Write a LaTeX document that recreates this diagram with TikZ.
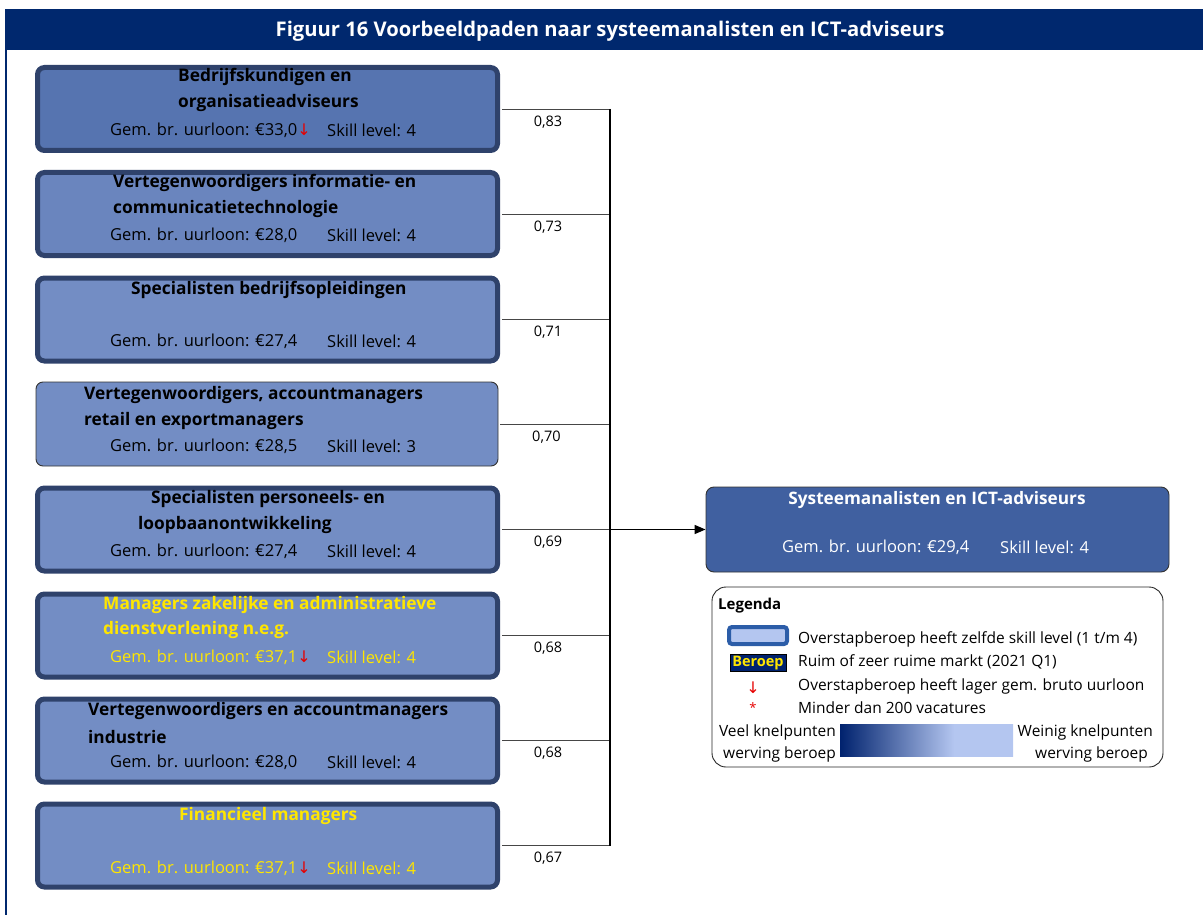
\documentclass[tikz,border=0pt]{standalone}
\usepackage{fontspec}
\setmainfont{Open Sans}
\newfontfamily\arrowfont{DejaVu Sans}
\usetikzlibrary{arrows.meta}

\definecolor{hdrblue}{RGB}{0,40,110}
\definecolor{boxedge}{RGB}{47,66,107}
\definecolor{fillA}{RGB}{86,116,176}
\definecolor{fillB}{RGB}{106,133,190}
\definecolor{fillC}{RGB}{115,141,196}
\definecolor{goalfill}{RGB}{64,96,160}
\definecolor{markyellow}{RGB}{255,230,0}
\definecolor{lowred}{RGB}{230,0,0}
\definecolor{legedge}{RGB}{44,93,168}
\definecolor{leglight}{RGB}{180,198,240}
\definecolor{legdark}{RGB}{0,34,110}
\definecolor{connline}{RGB}{70,70,70}

% dark-to-light scale for recruitment bottlenecks (visible range 25bp..75bp)
\pgfdeclarehorizontalshading{knelpunt}{100bp}{color(0bp)=(legdark); color(25bp)=(legdark); color(58bp)=(leglight); color(100bp)=(leglight)}

% red arrow for a lower average hourly wage
\newcommand{\lowerwage}{{\arrowfont\color{lowred}\fontsize{16}{16}\selectfont ↓}}

\tikzset{
  pathbox/.style={draw=boxedge, line width=5pt, rounded corners=7pt,
    minimum width=460pt, minimum height=83pt, inner sep=0pt},
  thinbox/.style={draw=black!80, line width=0.9pt, rounded corners=7pt,
    minimum width=462pt, minimum height=84pt, inner sep=0pt},
  ttl/.style={anchor=west, inner sep=0pt, font=\fontsize{17.3}{18}\selectfont\bfseries},
  info/.style={anchor=west, inner sep=0pt, font=\fontsize{16.5}{18}\selectfont},
  score/.style={inner sep=0pt, font=\fontsize{14.5}{16}\selectfont},
  conn/.style={draw=connline, line width=0.9pt},
  legtxt/.style={anchor=west, inner sep=0pt, font=\fontsize{15.5}{16}\selectfont},
}

\begin{document}
\begin{tikzpicture}[x=1pt,y=-1pt]
\useasboundingbox (0,0) rectangle (1203,915);

% header band and left frame line
\fill[hdrblue] (5,9) rectangle (1203,50);
\node[font=\fontsize{20.2}{22}\selectfont\bfseries, text=white, inner sep=0pt] (title) at (610,31)
  {Figuur 16 Voorbeeldpaden naar systeemanalisten en ICT-adviseurs};
\draw[hdrblue, line width=2pt] (6,50) -- (6,915);

% source occupations
\node[pathbox, fill=fillA] (b1) at (267.5,109) {};
\node[pathbox, fill=fillB] (b2) at (267.5,214) {};
\node[pathbox, fill=fillC] (b3) at (267.5,319.5) {};
\node[thinbox, fill=fillC] (b4) at (267,424) {};
\node[pathbox, fill=fillC] (b5) at (267.5,529.5) {};
\node[pathbox, fill=fillC] (b6) at (267.5,635.5) {};
\node[pathbox, fill=fillC] (b7) at (267.5,740.5) {};
\node[pathbox, fill=fillC] (b8) at (267.5,845.5) {};

\node[ttl] (b1a) at (178,77) {Bedrijfskundigen en};
\node[ttl] (b1b) at (178,103) {organisatieadviseurs};
\node[info] (b1c) at (110,130) {Gem. br. uurloon: €33,0\lowerwage};
\node[info] (b1d) at (327,130) {Skill level: 4};

\node[ttl] (b2a) at (113,183) {Vertegenwoordigers informatie- en};
\node[ttl] (b2b) at (113,209) {communicatietechnologie};
\node[info] (b2c) at (110,235) {Gem. br. uurloon: €28,0};
\node[info] (b2d) at (327,235) {Skill level: 4};

\node[ttl] (b3a) at (131,290) {Specialisten bedrijfsopleidingen};
\node[info] (b3c) at (110,341) {Gem. br. uurloon: €27,4};
\node[info] (b3d) at (327,341) {Skill level: 4};

\node[ttl] (b4a) at (84,395) {Vertegenwoordigers, accountmanagers};
\node[ttl] (b4b) at (84,421) {retail en exportmanagers};
\node[info] (b4c) at (110,446) {Gem. br. uurloon: €28,5};
\node[info] (b4d) at (327,446) {Skill level: 3};

\node[ttl] (b5a) at (151,499) {Specialisten personeels- en};
\node[ttl] (b5b) at (138,525) {loopbaanontwikkeling};
\node[info] (b5c) at (110,551) {Gem. br. uurloon: €27,4};
\node[info] (b5d) at (327,551) {Skill level: 4};

\node[ttl, text=markyellow] (b6a) at (103,605) {Managers zakelijke en administratieve};
\node[ttl, text=markyellow] (b6b) at (103,630) {dienstverlening n.e.g.};
\node[info, text=markyellow] (b6c) at (110,657) {Gem. br. uurloon: €37,1\lowerwage};
\node[info, text=markyellow] (b6d) at (327,657) {Skill level: 4};

\node[ttl] (b7a) at (88,711) {Vertegenwoordigers en accountmanagers};
\node[ttl] (b7b) at (88,737) {industrie};
\node[info] (b7c) at (110,762) {Gem. br. uurloon: €28,0};
\node[info] (b7d) at (327,762) {Skill level: 4};

\node[ttl, text=markyellow] (b8a) at (179,816) {Financieel managers};
\node[info, text=markyellow] (b8c) at (110,868) {Gem. br. uurloon: €37,1\lowerwage};
\node[info, text=markyellow] (b8d) at (327,868) {Skill level: 4};

% target occupation
\node[draw=black!80, line width=0.9pt, rounded corners=8pt, fill=goalfill,
  minimum width=463pt, minimum height=85pt, inner sep=0pt] (goal) at (937.5,529.5) {};
\node[font=\fontsize{17.2}{18}\selectfont\bfseries, text=white, inner sep=0pt] (goala) at (937,500)
  {Systeemanalisten en ICT-adviseurs};
\node[info, text=white] (goalc) at (782,547) {Gem. br. uurloon: €29,4};
\node[info, text=white] (goald) at (1000,547) {Skill level: 4};

% connectors with similarity scores
\coordinate (spine) at (610,0);
\foreach \b/\s in {b1/0{,}83, b2/0{,}73, b3/0{,}71, b4/0{,}70, b5/0{,}69, b6/0{,}68, b7/0{,}68, b8/0{,}67}{
  \draw[conn, shorten <=2pt] (\b.east) -- (\b.east -| spine);
  \node[score] at ([xshift=48pt, yshift=-13pt]\b.east) {\s};
}
\draw[black, line width=1.1pt] (b1.east -| spine) -- (b8.east -| spine);
\draw[black, line width=1.6pt, -{Triangle[length=11pt, width=9pt]}] (b5.east -| spine) -- (goal.west);

% legend
\node[draw=black!85, line width=0.9pt, rounded corners=14pt, minimum width=451pt,
  minimum height=180pt, inner sep=0pt] (legend) at (937.5,677) {};
\node[anchor=west, inner sep=0pt, font=\fontsize{15}{16}\selectfont\bfseries] (legt) at (718,606) {Legenda};
\node[draw=legedge, fill=leglight, line width=4pt, rounded corners=3pt,
  minimum width=58pt, minimum height=17pt, inner sep=0pt] (legskill) at (758,635.5) {};
\node[draw=black, fill=legdark, line width=1pt, minimum width=56pt, minimum height=17pt,
  inner sep=0pt, font=\fontsize{14.5}{15}\selectfont\bfseries, text=markyellow] (legmarket) at (758,663) {Beroep};
\node[inner sep=0pt] (legarrow) at (753,688) {\lowerwage};
\node[inner sep=0pt, text=lowred, font=\fontsize{13}{15}\selectfont] (legstar) at (753,708) {*};
\node[legtxt] (l1) at (798,639) {Overstapberoep heeft zelfde skill level (1 t/m 4)};
\node[legtxt] (l2) at (798,662) {Ruim of zeer ruime markt (2021 Q1)};
\node[legtxt] (l3) at (798,686) {Overstapberoep heeft lager gem. bruto uurloon};
\node[legtxt] (l4) at (798,708) {Minder dan 200 vacatures};
\shade[shading=knelpunt] (840,724) rectangle (1013,756);
\node[legtxt, anchor=east] (lv1) at (836,732) {Veel knelpunten};
\node[legtxt, anchor=east] (lv2) at (836,754) {werving beroep};
\node[legtxt, anchor=east] (lw1) at (1153,732) {Weinig knelpunten};
\node[legtxt, anchor=east] (lw2) at (1148,754) {werving beroep};
\end{tikzpicture}
\end{document}
